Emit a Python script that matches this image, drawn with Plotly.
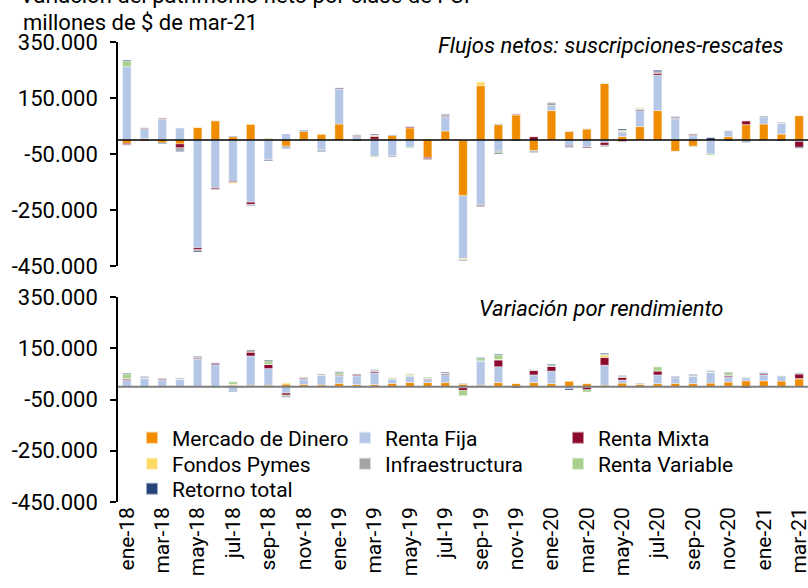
import plotly.graph_objects as go
from plotly.subplots import make_subplots

months = ["ene-18","feb-18","mar-18","abr-18","may-18","jun-18","jul-18","ago-18","sep-18","oct-18","nov-18","dic-18",
          "ene-19","feb-19","mar-19","abr-19","may-19","jun-19","jul-19","ago-19","sep-19","oct-19","nov-19","dic-19",
          "ene-20","feb-20","mar-20","abr-20","may-20","jun-20","jul-20","ago-20","sep-20","oct-20","nov-20","dic-20",
          "ene-21","feb-21","mar-21"]
tick_labels = months[::2]
y_tick_vals = [-450000, -250000, -50000, 150000, 350000]
y_tick_text = ["-450.000", "-250.000", "-50.000", "150.000", "350.000"]

series_names = ["Mercado de Dinero", "Renta Fija", "Renta Mixta", "Fondos Pymes",
                "Infraestructura", "Renta Variable", "Retorno total"]
series_colors = ["#F08C00", "#B4C7E7", "#8B0A2D", "#FFD966", "#A5A5A5", "#A9D18E", "#264478"]
legend_rows = ["legend", "legend", "legend", "legend2", "legend2", "legend2", "legend3"]

# Flujos netos: suscripciones-rescates (millones de $ de mar-21)
flujos_md = [-12000, 5000, -10000, -14000, 45000, 69000, 12000, 56000, 0, -22000, 31000, 21000,
             57000, 0, 3000, 16000, 43000, -62000, 32000, -199000, 194000, 55000, 90000, -38000,
             105000, 31000, 39000, 202000, 12000, 48000, 105000, -40000, -22000, 0, 12000, 55000,
             57000, 21000, 87000]
flujos_rf = [262000, 35000, 75000, 44000, -385000, -171000, -148000, -222000, -69000, 23000, 0, -35000,
             123000, 12000, -58000, -57000, -26000, 0, 51000, -224000, -232000, -40000, 0, 0,
             18000, -20000, -25000, -9000, 17000, 57000, 127000, 75000, 15000, -50000, 23000, 0,
             24000, 39000, -5000]
flujos_rm = [-5000, 3000, 3000, -14000, -7000, -4000, -4000, -8000, 0, 0, 0, 0,
             3000, 3000, 10000, 0, 4000, -5000, 3000, 0, -3000, -2000, 3000, 12000,
             0, -3000, -3000, -10000, -5000, 4000, 7000, 3000, 3000, 0, 0, 14000,
             0, 0, -21000]
flujos_fp = [0, 0, 2000, 0, 2000, 0, -3000, 3000, 3000, 0, 0, 2000,
             0, 0, 3000, 0, 0, 5000, 0, -4000, 13000, 0, 0, 2000,
             0, 0, 2000, 0, 3000, 0, 0, 0, 0, 0, 2000, 0,
             0, 0, 2000]
flujos_in = [-2000, 2000, 0, -9000, -4000, -3000, 0, -3000, -2000, -5000, 0, -3000,
             0, 5000, 2000, -4000, 3000, -4000, 5000, -3000, -4000, 3000, 2000, 0,
             10000, 2000, 2000, -5000, 3000, 3000, 5000, 2000, 5000, 0, 0, -5000,
             0, 4000, 0]
flujos_rv = [20000, 0, 0, 0, 0, 2000, 0, 0, 3000, 0, -3000, 0,
             0, 0, -3000, 0, -3000, 0, 0, 0, 2000, -5000, 0, -3000,
             3000, 0, 0, 3000, 0, 3000, 0, 0, -3000, -4000, 0, 0,
             0, 0, 0]
flujos_rt = [3000, -3000, -3000, -4000, -4000, 0, 2000, -2000, -3000, -3000, 3000, -3000,
             3000, -3000, 3000, 2000, 0, 0, 2000, -2000, 0, -3000, -3000, -3000,
             0, -3000, 0, 0, 4000, 0, 5000, 3000, 0, 8000, -3000, -3000,
             3000, -3000, -3000]

# Variación por rendimiento (millones de $ de mar-21)
rend_md = [2000, 0, 0, 0, 0, 0, 6000, 6000, 6000, 10000, 9000, 7000,
           13000, 8000, 8000, 13000, 16000, 16000, 16000, 10000, 6000, 16000, 13000, 16000,
           12000, 23000, 12000, 6000, 14000, 10000, 12000, 13000, 12000, 14000, 18000, 23000,
           23000, 22000, 30000]
rend_rf = [23000, 33000, 26000, 30000, 108000, 85000, -16000, 114000, 65000, -25000, 21000, 39000,
           29000, 34000, 46000, 17000, 26000, 12000, 31000, -5000, 95000, 62000, 0, 30000,
           49000, -8000, -3000, 78000, 12000, -5000, 34000, 21000, 29000, 43000, 21000, 12000,
           23000, 18000, 2000]
rend_rm = [5000, 0, 4000, 0, 4000, 5000, 0, 15000, 16000, -8000, 4000, 0,
           4000, 4000, 5000, 0, 0, 3000, 4000, -10000, 0, 26000, 0, 17000,
           18000, 0, -9000, 30000, 10000, 0, 16000, 2000, 0, 0, 6000, -5000,
           5000, 0, 18000]
rend_fp = [0, 0, 0, 0, 0, 0, 3000, 0, 0, 5000, 0, 0,
           0, 0, 0, 3000, 3000, 0, 0, 0, 0, 3000, 3000, 0,
           0, 0, 3000, 9000, 0, 0, 0, 0, 3000, 0, 0, 0,
           0, 0, 0]
rend_in = [2000, 4000, 4000, 5000, 3000, 0, 0, 10000, 0, 0, 3000, 5000,
           0, 6000, 5000, 3000, 3000, 2000, 3000, 4000, 0, 0, 0, 3000,
           6000, 0, 0, 5000, 5000, 5000, 0, 0, 0, 0, 0, 3000,
           0, 0, 5000]
rend_rv = [17000, -3000, -3000, 0, 0, -5000, 10000, 0, 14000, -5000, 2000, 0,
           9000, 0, 0, -4000, 4000, 5000, 0, -20000, 9000, 17000, 0, 3000,
           0, 0, -9000, 0, 0, 0, 16000, 0, 0, 3000, 10000, 0,
           0, 0, 0]
rend_rt = [3000, 2000, 0, 0, 3000, 3000, -3000, 0, 3000, -3000, 0, 0,
           3000, 0, 2000, 0, 0, 0, 3000, 0, 3000, 3000, -5000, 0,
           3000, -5000, 0, 3000, 2000, 0, 0, 3000, 3000, 2000, 2000, 0,
           3000, 2000, 0]

flujos = [flujos_md, flujos_rf, flujos_rm, flujos_fp, flujos_in, flujos_rv, flujos_rt]
rend = [rend_md, rend_rf, rend_rm, rend_fp, rend_in, rend_rv, rend_rt]

FONT = "Roboto"
W, H = 808, 588
ML, MR, MT = 118, 0, 42
PLOT_BOTTOM = 502
MB = H - PLOT_BOTTOM
PW = W - ML - MR
PH = PLOT_BOTTOM - MT


def px_x(p):
    """page pixel x -> paper x"""
    return (p - ML) / PW


def px_y(p):
    """page pixel y -> paper y"""
    return (PLOT_BOTTOM - p) / PH


fig = make_subplots(rows=2, cols=1, shared_xaxes=True, vertical_spacing=0.0)

bar_line = dict(color="rgba(255,255,255,0.55)", width=0.7)
for i, name in enumerate(series_names):
    fig.add_trace(go.Bar(x=months, y=flujos[i], name=name, legendgroup=name, legend=legend_rows[i],
                         marker=dict(color=series_colors[i], line=bar_line),
                         showlegend=True), row=1, col=1)
for i, name in enumerate(series_names):
    fig.add_trace(go.Bar(x=months, y=rend[i], name=name, legendgroup=name, legend=legend_rows[i],
                         marker=dict(color=series_colors[i], line=bar_line),
                         showlegend=False), row=2, col=1)

yaxis_common = dict(range=[-450000, 350000], tickmode="array", tickvals=y_tick_vals, ticktext=y_tick_text,
                    showgrid=False, zeroline=False, showline=True, linecolor="#000000", linewidth=1.5,
                    ticks="outside", ticklen=6, tickwidth=1.5, tickcolor="#000000", automargin=False,
                    ticklabelstandoff=8,
                    tickfont=dict(family=FONT, size=22, color="#000000"))

legend_common = dict(orientation="h", xanchor="left", yanchor="middle",
                     entrywidth=168, entrywidthmode="pixels",
                     font=dict(family=FONT, size=21, color="#000000"),
                     bgcolor="rgba(0,0,0,0)", traceorder="normal", itemsizing="constant")

fig.update_layout(
    width=W, height=H,
    margin=dict(l=ML, r=MR, t=MT, b=MB, autoexpand=False),
    paper_bgcolor="white", plot_bgcolor="white",
    barmode="relative", bargap=0.52,
    font=dict(family=FONT, size=20, color="#000000"),
    showlegend=True,
    legend=dict(x=px_x(132), y=px_y(438), **legend_common),
    legend2=dict(x=px_x(132), y=px_y(464), **legend_common),
    legend3=dict(x=px_x(132), y=px_y(489), **legend_common),
    yaxis=dict(domain=[px_y(266), 1.0], **yaxis_common),
    yaxis2=dict(domain=[0.0, px_y(297)], **yaxis_common),
    xaxis=dict(showticklabels=False, ticks="", showline=False, showgrid=False, zeroline=False, automargin=False),
    xaxis2=dict(tickmode="array", tickvals=tick_labels, ticktext=tick_labels, tickangle=-90,
                ticks="", showline=False, showgrid=False, zeroline=False, automargin=False,
                tickfont=dict(family=FONT, size=21, color="#000000")),
)

# zero lines
fig.add_shape(type="line", xref="x domain", yref="y", x0=0, x1=1, y0=0, y1=0,
              line=dict(color="#000000", width=1.5), layer="above")
fig.add_shape(type="line", xref="x2 domain", yref="y2", x0=0, x1=1, y0=0, y1=0,
              line=dict(color="#7F7F7F", width=2), layer="above")

# titles
fig.add_annotation(text="Variación del patrimonio neto por clase de FCI", xref="paper", yref="paper",
                   x=px_x(18), y=px_y(-5), xanchor="left", yanchor="middle",
                   showarrow=False, font=dict(family=FONT, size=22, color="#000000"))
fig.add_annotation(text="millones de $ de mar-21", xref="paper", yref="paper",
                   x=px_x(21), y=px_y(22), xanchor="left", yanchor="middle",
                   showarrow=False, font=dict(family=FONT, size=22, color="#000000"))
fig.add_annotation(text="<i>Flujos netos: suscripciones-rescates</i>", xref="paper", yref="paper",
                   x=px_x(786), y=px_y(46), xanchor="right", yanchor="middle",
                   showarrow=False, font=dict(family=FONT, size=22, color="#000000"))
fig.add_annotation(text="<i>Variación por rendimiento</i>", xref="paper", yref="paper",
                   x=px_x(601), y=px_y(308), xanchor="center", yanchor="middle",
                   showarrow=False, font=dict(family=FONT, size=22, color="#000000"))

# the reference image starts flush with the page corner
fig.write_html("out.html", config={"displayModeBar": False},
               post_script="document.body.style.margin='0';")
